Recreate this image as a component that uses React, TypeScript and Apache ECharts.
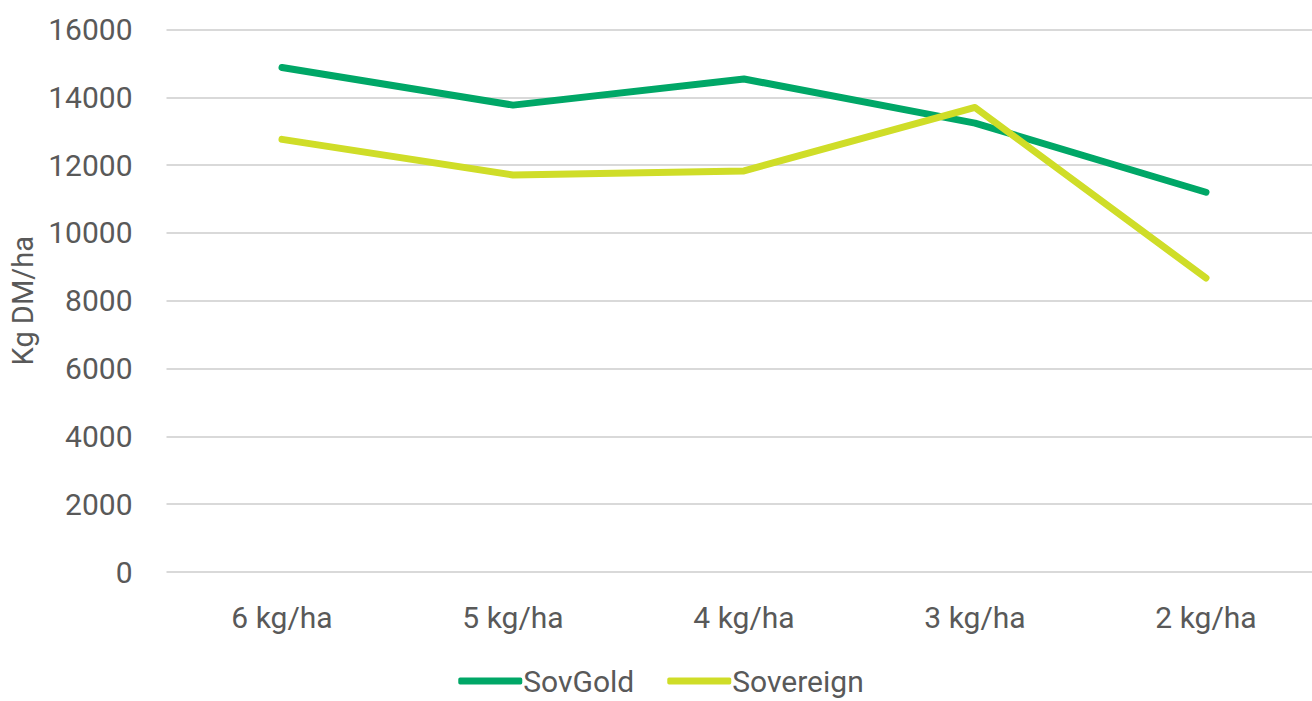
import React, { useEffect, useRef } from "react";
import * as echarts from "echarts";

const categories = ["6 kg/ha", "5 kg/ha", "4 kg/ha", "3 kg/ha", "2 kg/ha"];
const sovGold = [14880, 13770, 14540, 13240, 11200];
const sovereign = [12760, 11710, 11830, 13700, 8670];
const seriesNames = ["SovGold", "Sovereign"];

export default function App() {
  const ref = useRef<HTMLDivElement>(null);
  useEffect(() => {
    if (!ref.current) return;
    const chart = echarts.init(ref.current, null, { renderer: "svg" });
    const font = "Roboto";
    const text = "#595959";
    chart.setOption({
      animation: false,
      backgroundColor: "#ffffff",
      textStyle: { fontFamily: font },
      grid: { left: 166.5, right: 0.5, top: 29.5, bottom: 129, containLabel: false },
      legend: {
        bottom: 0,
        left: "center",
        icon: "roundRect",
        itemWidth: 64,
        itemHeight: 7,
        itemGap: 33,
        textStyle: { fontFamily: font, fontSize: 30, color: text, padding: [0, 0, 0, -4] },
        data: seriesNames,
      },
      xAxis: {
        type: "category",
        data: categories,
        boundaryGap: true,
        axisLine: { show: false },
        axisTick: { show: false },
        axisLabel: { fontFamily: font, fontSize: 30, color: text, margin: 30 },
        splitLine: { show: false },
      },
      yAxis: {
        type: "value",
        min: 0,
        max: 16000,
        interval: 2000,
        name: "Kg DM/ha",
        nameLocation: "middle",
        nameGap: 126,
        nameTextStyle: { fontFamily: font, fontSize: 29, color: text },
        axisLine: { show: false },
        axisTick: { show: false },
        axisLabel: {
          fontFamily: font,
          fontSize: 30,
          color: text,
          margin: 34,
          formatter: (v: number) => String(v),
        },
        splitLine: { lineStyle: { color: "#d9d9d9", width: 2 } },
      },
      series: [
        {
          name: seriesNames[0],
          type: "line",
          data: sovGold,
          symbol: "none",
          lineStyle: { color: "#00a767", width: 7, cap: "round", join: "round" },
          itemStyle: { color: "#00a767" },
        },
        {
          name: seriesNames[1],
          type: "line",
          data: sovereign,
          symbol: "none",
          lineStyle: { color: "#cfdd28", width: 7, cap: "round", join: "round" },
          itemStyle: { color: "#cfdd28" },
        },
      ],
    });
    return () => chart.dispose();
  }, []);
  return (
    <div style={{ position: "fixed", left: 0, top: 0, width: 1312, height: 701, overflow: "hidden" }}>
      <div ref={ref} style={{ width: 1322, height: 701 }} />
    </div>
  );
}
